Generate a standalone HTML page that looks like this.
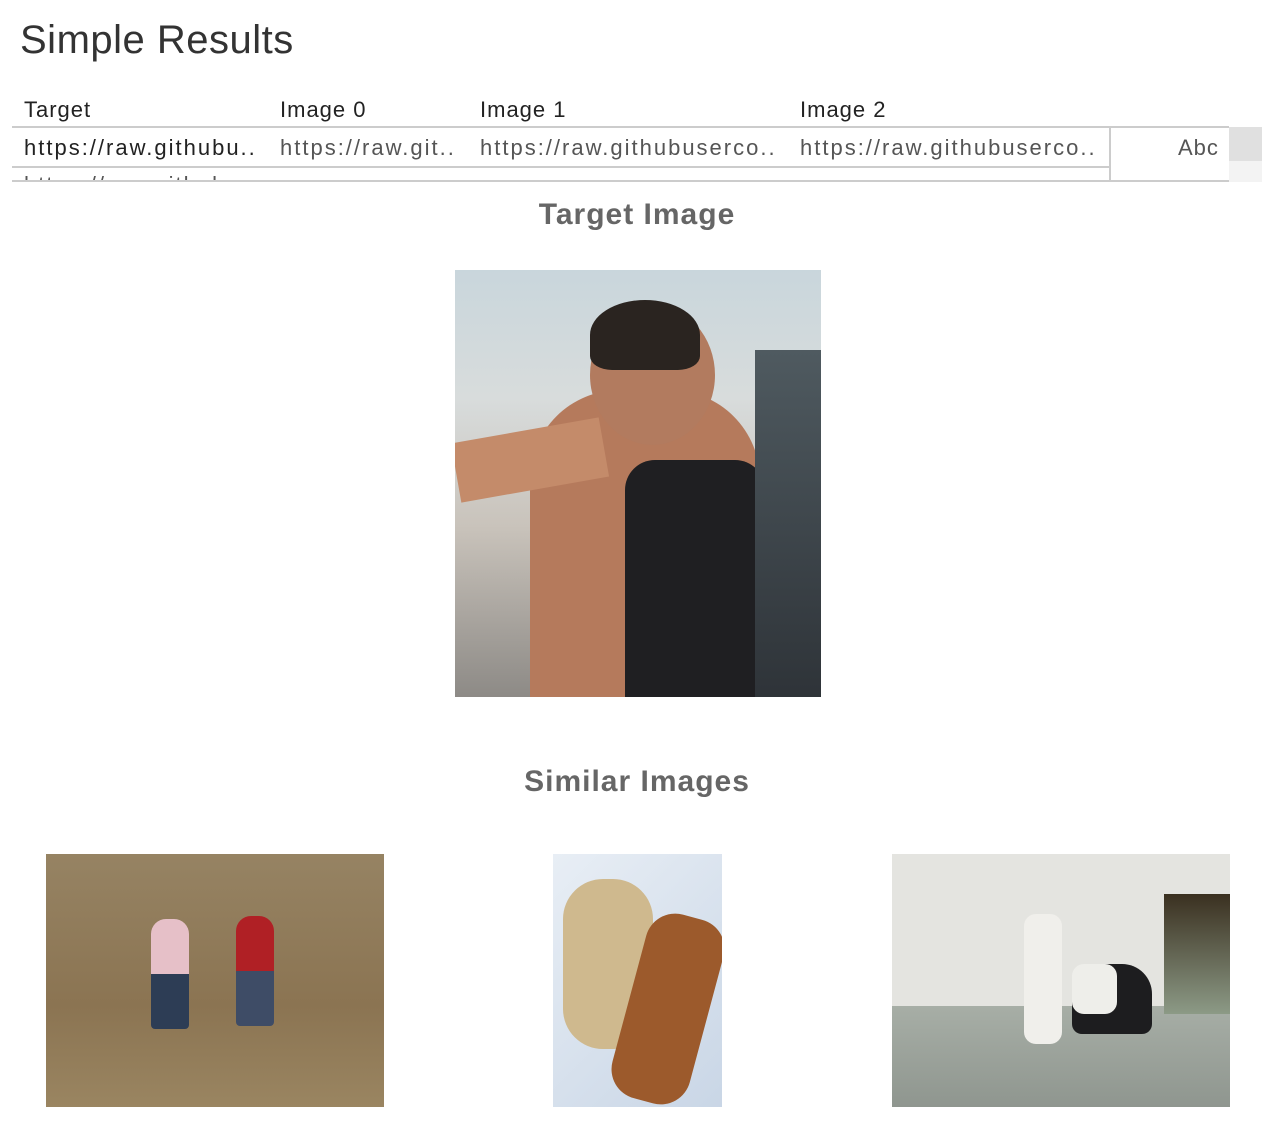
<!DOCTYPE html>
<html><head><meta charset="utf-8"><style>
body{margin:0;width:1274px;height:1126px;background:#fff;font-family:"Liberation Sans",sans-serif;position:relative;overflow:hidden}
.a{position:absolute}
.t{white-space:nowrap;font-size:22px;color:#222;letter-spacing:1px}
.c{letter-spacing:2px}
.u{color:#555}
</style></head><body>
<div class="a" style="left:20px;top:18px;font-size:40px;color:#333;font-weight:300;letter-spacing:0.5px">Simple Results</div>
<div class="a" style="left:12px;top:92px;width:1250px;height:90px;overflow:hidden">
 <div class="a t" style="left:12px;top:5px">Target</div>
 <div class="a t" style="left:268px;top:5px">Image 0</div>
 <div class="a t" style="left:468px;top:5px">Image 1</div>
 <div class="a t" style="left:788px;top:5px">Image 2</div>
 <div class="a" style="left:0;top:34px;width:1217px;height:2px;background:#ccc"></div>
 <div class="a t c" style="left:12px;top:43px">https://raw.githubu..</div>
 <div class="a t c u" style="left:268px;top:43px">https://raw.git..</div>
 <div class="a t c u" style="left:468px;top:43px">https://raw.githubuserco..</div>
 <div class="a t c u" style="left:788px;top:43px">https://raw.githubuserco..</div>
 <div class="a" style="left:1097px;top:35px;width:120px;height:55px;border-left:2px solid #ccc;border-right:2px solid #ccc"></div>
 <div class="a t u" style="left:1166px;top:43px">Abc</div>
 <div class="a" style="left:1217px;top:35px;width:33px;height:34px;background:#e0e0e0"></div>
 <div class="a" style="left:1217px;top:69px;width:33px;height:21px;background:#f3f3f3"></div>
 <div class="a" style="left:0;top:74px;width:1097px;height:2px;background:#ccc"></div>
 <div class="a t c u" style="left:12px;top:80px">https://raw.githubu..</div>
 <div class="a" style="left:0;top:88px;width:1217px;height:2px;background:#ccc"></div>
</div>
<div class="a" style="left:0;width:1274px;text-align:center;top:198px;font-size:30px;font-weight:bold;color:#666;letter-spacing:1px">Target Image</div>
<div class="a" style="left:455px;top:270px;width:366px;height:427px;background:linear-gradient(180deg,#c9d6dc 0%,#d8dcdc 30%,#c9c3bb 60%,#8d8a86 100%);overflow:hidden">
 <div class="a" style="left:75px;top:120px;width:230px;height:310px;border-radius:90px 90px 0 0;background:#b57a5c"></div>
 <div class="a" style="left:135px;top:35px;width:125px;height:140px;border-radius:50%;background:#b27b5f"></div>
 <div class="a" style="left:135px;top:30px;width:110px;height:70px;border-radius:50% 50% 20% 20%;background:#2a2420"></div>
 <div class="a" style="left:170px;top:190px;width:140px;height:240px;background:#1f1f22;border-radius:30px 30px 0 0"></div>
 <div class="a" style="left:0;top:160px;width:150px;height:60px;background:#c48b6a;transform:rotate(-10deg)"></div>
 <div class="a" style="left:300px;top:80px;width:66px;height:350px;background:linear-gradient(#4f5a60,#2e3338)"></div>
</div>
<div class="a" style="left:0;width:1274px;text-align:center;top:765px;font-size:30px;font-weight:bold;color:#666;letter-spacing:1px">Similar Images</div>
<div class="a" style="left:46px;top:854px;width:338px;height:253px;background:linear-gradient(#968363,#8b7452 60%,#9a8561);overflow:hidden">
 <div class="a" style="left:105px;top:65px;width:38px;height:110px;background:linear-gradient(#e6c0c8 0 50%,#2d3d55 50%);border-radius:15px 15px 4px 4px"></div>
 <div class="a" style="left:190px;top:62px;width:38px;height:110px;background:linear-gradient(#b02025 0 50%,#3e4c66 50%);border-radius:15px 15px 4px 4px"></div>
</div>
<div class="a" style="left:553px;top:854px;width:169px;height:253px;background:linear-gradient(135deg,#e8eef5,#c9d6e6);overflow:hidden">
 <div class="a" style="left:10px;top:25px;width:90px;height:170px;background:#cfb98e;border-radius:40px"></div>
 <div class="a" style="left:75px;top:60px;width:80px;height:190px;background:#9c5a2c;border-radius:30px;transform:rotate(15deg)"></div>
</div>
<div class="a" style="left:892px;top:854px;width:338px;height:253px;background:linear-gradient(#e4e4e0 0 60%,#a7aea6 60%,#8f968f);overflow:hidden">
 <div class="a" style="left:272px;top:40px;width:66px;height:120px;background:linear-gradient(#3a3020,#8c9a86)"></div>
 <div class="a" style="left:132px;top:60px;width:38px;height:130px;background:#f0efeb;border-radius:12px"></div>
 <div class="a" style="left:180px;top:110px;width:80px;height:70px;background:#1d1d1f;border-radius:30px 30px 10px 10px"></div>
 <div class="a" style="left:180px;top:110px;width:45px;height:50px;background:#eeeeea;border-radius:12px"></div>
</div>
</body></html>
